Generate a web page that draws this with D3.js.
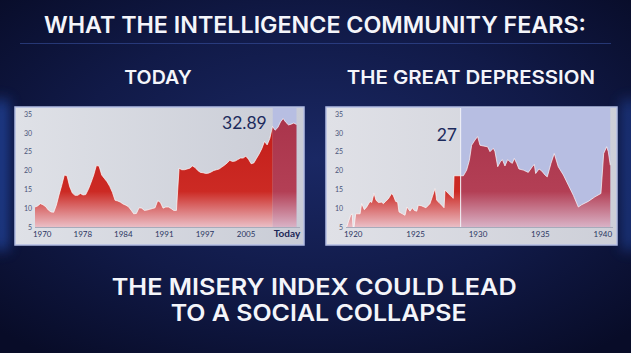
<!DOCTYPE html>
<html>
<head>
<meta charset="utf-8">
<script src="https://cdn.jsdelivr.net/npm/d3@7"></script>
<style>
  html, body { margin: 0; padding: 0; background: #0b1133; }
  svg { display: block; }
</style>
</head>
<body>
<div id="chart"></div>
<script>
// misery index, sampled evenly along the "today" panel
var todayValues = [
  10.3, 10.6, 11.2, 10.9, 10.4, 9.5, 9.0, 8.9, 10.8, 13.5,
  16.0, 18.8, 18.6, 15.7, 14.0, 13.4, 13.4, 13.9, 13.5, 13.6,
  15.0, 16.8, 18.8, 21.3, 21.2, 18.8, 17.9, 17.0, 15.8, 14.2,
  12.1, 11.9, 11.6, 11.1, 10.8, 10.4, 9.5, 8.5, 8.6, 10.1,
  10.0, 9.4, 9.5, 9.7, 9.9, 10.1, 12.0, 11.5, 10.0, 10.3,
  10.3, 9.9, 9.4, 9.4, 20.6, 20.2, 20.2, 20.4, 20.6, 21.2,
  20.8, 20.0, 19.5, 19.4, 19.2, 19.3, 19.6, 20.0, 20.2, 20.4,
  20.9, 21.4, 22.0, 22.7, 22.4, 22.5, 22.9, 23.3, 23.3, 23.8,
  23.0, 21.8, 22.0, 23.2, 24.4, 25.8, 27.7, 26.8, 28.5, 31.7,
  30.7, 31.4, 32.9, 33.8, 32.8, 32.1, 32.3, 32.6, 32.2
];
var todayTicks = [2.5, 17.75, 32.9, 48.25, 63.5, 78.9, 94.25];
var todayTickLabels = ["1970", "1978", "1984", "1991", "1997", "2005", "Today"];
var todayHighlightStart = 89.1;
var todayCallout = "32.89";

var depressionYears = [
  1919.52, 1919.65, 1919.84, 1919.95, 1920.03, 1920.11, 1920.24, 1920.59, 1920.72, 1920.93,
  1921.12, 1921.39, 1921.52, 1921.71, 1921.87, 1922.06, 1922.32, 1922.46, 1922.64, 1922.86,
  1923.12, 1923.26, 1923.44, 1923.60, 1923.71, 1923.98, 1924.19, 1924.35, 1924.59, 1924.78,
  1924.94, 1925.13, 1925.26, 1925.53, 1925.87, 1926.19, 1926.38, 1926.60, 1926.73, 1926.92,
  1927.13, 1927.32, 1927.40, 1927.66, 1927.93, 1928.06, 1928.12, 1928.87, 1929.13, 1929.35,
  1929.53, 1929.80, 1930.01, 1930.20, 1930.47, 1930.81, 1931.00, 1931.27, 1931.40, 1931.62,
  1931.83, 1931.99, 1932.20, 1932.42, 1932.60, 1932.79, 1932.95, 1933.14, 1933.32, 1933.67,
  1934.07, 1934.39, 1934.55, 1934.66, 1934.93, 1935.14, 1935.41, 1935.59, 1935.89, 1936.15,
  1936.47, 1936.88, 1937.28, 1937.68, 1938.08, 1938.34, 1938.88, 1939.41, 1939.89, 1940.11,
  1940.35, 1940.48, 1940.64
];
var depressionValues = [
  5.0, 6.3, 8.1, 8.5, 5.0, 5.0, 8.5, 8.5, 11.2, 9.6,
  10.3, 11.8, 11.5, 13.9, 12.1, 11.5, 11.6, 11.2, 11.8, 12.5,
  13.9, 13.3, 11.8, 11.6, 9.0, 8.5, 8.1, 10.3, 9.2, 10.1,
  9.4, 9.2, 10.8, 10.6, 10.1, 11.2, 13.0, 15.2, 12.1, 11.5,
  10.8, 10.1, 14.8, 13.9, 13.0, 12.6, 18.6, 18.6, 20.1, 22.7,
  26.7, 28.1, 29.0, 26.7, 26.5, 26.3, 25.0, 25.9, 25.0, 21.0,
  22.3, 22.9, 21.2, 22.9, 22.3, 21.9, 23.2, 21.9, 20.4, 20.1,
  19.5, 21.0, 21.6, 19.2, 20.4, 19.9, 18.8, 18.3, 21.9, 24.5,
  21.0, 18.8, 16.1, 13.4, 10.3, 10.9, 11.8, 13.0, 13.9, 24.5,
  26.3, 25.0, 21.4
];
var depressionTicks = [1920, 1925, 1930, 1935, 1940];
var depressionHighlightStart = 1928.65;
var depressionCallout = "27";

var yTicks = [5, 10, 15, 20, 25, 30, 35];

var W = 631, H = 353;
var svg = d3.select("#chart").append("svg").attr("width", W).attr("height", H);
var defs = svg.append("defs");

// backdrop
var bg = defs.append("radialGradient").attr("id", "bg")
  .attr("cx", "50%").attr("cy", "45%").attr("r", "70%");
bg.append("stop").attr("offset", "0%").attr("stop-color", "#1a2864");
bg.append("stop").attr("offset", "55%").attr("stop-color", "#111a48");
bg.append("stop").attr("offset", "100%").attr("stop-color", "#080c28");
svg.append("rect").attr("width", W).attr("height", H).attr("fill", "url(#bg)");

defs.append("filter").attr("id", "soft")
  .attr("x", "-200%").attr("y", "-50%").attr("width", "500%").attr("height", "200%")
  .append("feGaussianBlur").attr("stdDeviation", 7);
svg.append("rect").attr("x", -6).attr("y", 100).attr("width", 14).attr("height", 150)
  .attr("fill", "#2f62d8").attr("opacity", 0.6).attr("filter", "url(#soft)");
svg.append("rect").attr("x", 622).attr("y", 100).attr("width", 14).attr("height", 150)
  .attr("fill", "#2f62d8").attr("opacity", 0.45).attr("filter", "url(#soft)");

svg.append("line")
  .attr("x1", 20).attr("x2", 611).attr("y1", 43.5).attr("y2", 43.5)
  .attr("stroke", "#3c56a8").attr("stroke-opacity", 0.55).attr("stroke-width", 1);

// area fills
function vGrad(id, top, mid, bottom) {
  var g = defs.append("linearGradient").attr("id", id)
    .attr("gradientUnits", "userSpaceOnUse")
    .attr("x1", 0).attr("x2", 0).attr("y1", 114).attr("y2", 228);
  g.append("stop").attr("offset", "0%").attr("stop-color", top);
  g.append("stop").attr("offset", "68%").attr("stop-color", mid);
  g.append("stop").attr("offset", "100%").attr("stop-color", bottom);
}
vGrad("red", "#c21c18", "#cc2a24", "#ebc2ca");
vGrad("redHi", "#a9344b", "#b33f55", "#dab5c9");

function hGrad(id, left, right) {
  var g = defs.append("linearGradient").attr("id", id)
    .attr("x1", 0).attr("x2", 1).attr("y1", 0).attr("y2", 0);
  g.append("stop").attr("offset", "0%").attr("stop-color", left);
  g.append("stop").attr("offset", "100%").attr("stop-color", right);
}
hGrad("panelL", "#dfe1e7", "#c9ccd6");
hGrad("panelR", "#e0e1e7", "#cdcfd8");

var y = d3.scaleLinear().domain([5, 35]).range([227, 114]);

function drawPanel(opt) {
  var g = svg.append("g");
  var x = opt.x;

  g.append("rect")
    .attr("x", opt.box[0]).attr("y", 107)
    .attr("width", opt.box[1] - opt.box[0]).attr("height", 138)
    .attr("fill", opt.panelFill)
    .attr("stroke", "#b3bde3").attr("stroke-width", 1.5);

  var hiX = x(opt.hiStart);
  var endX = x(opt.hiEnd);
  g.append("rect")
    .attr("x", hiX).attr("y", 108)
    .attr("width", endX - hiX).attr("height", 119)
    .attr("fill", "#b7bee2");

  var area = d3.area()
    .x(function (d) { return x(d[0]); })
    .y0(y(5))
    .y1(function (d) { return y(d[1]); });
  var line = d3.line()
    .x(function (d) { return x(d[0]); })
    .y(function (d) { return y(d[1]); });

  defs.append("clipPath").attr("id", opt.id + "-lo")
    .append("rect").attr("x", 0).attr("y", 0).attr("width", hiX).attr("height", H);
  defs.append("clipPath").attr("id", opt.id + "-hi")
    .append("rect").attr("x", hiX).attr("y", 0).attr("width", W - hiX).attr("height", H);

  g.append("path").datum(opt.data)
    .attr("d", area).attr("fill", "url(#red)")
    .attr("clip-path", "url(#" + opt.id + "-lo)");
  g.append("path").datum(opt.data)
    .attr("d", area).attr("fill", "url(#redHi)")
    .attr("clip-path", "url(#" + opt.id + "-hi)");
  g.append("path").datum(opt.data)
    .attr("d", line).attr("fill", "none")
    .attr("stroke", "#ffffff").attr("stroke-opacity", 0.85)
    .attr("stroke-width", 0.8).attr("stroke-linejoin", "round");

  if (opt.divider) {
    g.append("line")
      .attr("x1", hiX).attr("x2", hiX).attr("y1", 108).attr("y2", 227)
      .attr("stroke", "#f2f3f8").attr("stroke-width", 1);
  }

  // baseline
  g.append("line")
    .attr("x1", opt.box[0] + 20).attr("x2", opt.box[1] - 4)
    .attr("y1", y(5) + 0.5).attr("y2", y(5) + 0.5)
    .attr("stroke", "#a6abbb").attr("stroke-width", 1);

  var yAxis = g.append("g")
    .attr("transform", "translate(" + opt.yLabelX + ",0)")
    .call(d3.axisLeft(y).tickValues(yTicks).tickSize(0).tickPadding(0));
  yAxis.select(".domain").remove();
  yAxis.selectAll("text")
    .attr("fill", "#4a5479").attr("font-family", "Lato, sans-serif")
    .attr("font-size", 7);

  var xAxis = g.append("g")
    .attr("transform", "translate(0," + y(5) + ")")
    .call(d3.axisBottom(x).tickValues(opt.ticks).tickSize(0).tickPadding(4)
      .tickFormat(function (d, i) { return opt.tickLabels[i]; }));
  xAxis.select(".domain").remove();
  xAxis.selectAll("text")
    .attr("fill", "#2a3562").attr("font-family", "Lato, sans-serif")
    .attr("font-size", 8)
    .filter(function (d, i) { return opt.tickLabels[i] === "Today"; })
    .attr("font-size", 10).attr("font-weight", 700).attr("fill", "#1c2656")
    .attr("dy", "0.6em");

  g.append("text")
    .attr("x", opt.calloutX).attr("y", opt.calloutY)
    .attr("text-anchor", opt.calloutAnchor)
    .attr("font-family", "Lato, sans-serif").attr("font-size", 17.5)
    .attr("fill", "#1c2a5c")
    .text(opt.callout);
}

var todayData = todayValues.map(function (v, i) { return [i, v]; });
var xToday = d3.scaleLinear().domain([0, todayValues.length - 1]).range([35, 296.5]);
drawPanel({
  id: "today",
  box: [15, 304],
  panelFill: "url(#panelL)",
  x: xToday,
  data: todayData,
  hiStart: todayHighlightStart,
  hiEnd: todayValues.length - 1,
  ticks: todayTicks,
  tickLabels: todayTickLabels,
  yLabelX: 32,
  callout: todayCallout,
  calloutX: 222, calloutY: 128.5, calloutAnchor: "start",
  divider: false
});

var depressionData = depressionYears.map(function (t, i) { return [t, depressionValues[i]]; });
var xDep = d3.scaleLinear().domain([1920, 1940]).range([352.7, 602.3]);
drawPanel({
  id: "dep",
  box: [326, 617],
  panelFill: "url(#panelR)",
  x: xDep,
  data: depressionData,
  hiStart: depressionHighlightStart,
  hiEnd: depressionYears[depressionYears.length - 1],
  ticks: depressionTicks,
  tickLabels: depressionTicks.map(String),
  yLabelX: 343,
  callout: depressionCallout,
  calloutX: 457, calloutY: 141, calloutAnchor: "end",
  divider: true
});

// headings
function heading(txt, x, baseline, size, width) {
  svg.append("text")
    .attr("x", x).attr("y", baseline)
    .attr("font-family", "Inter, 'Open Sans', sans-serif").attr("font-weight", 600)
    .attr("font-size", size).attr("fill", "#f4f5fa")
    .attr("textLength", width).attr("lengthAdjust", "spacingAndGlyphs")
    .text(txt);
}
heading("WHAT THE INTELLIGENCE COMMUNITY FEARS:", 44, 32.7, 23, 542);
heading("TODAY", 124.3, 84, 19, 67.4);
heading("THE GREAT DEPRESSION", 346.7, 84, 19, 248.3);
heading("THE MISERY INDEX COULD LEAD", 111.7, 295, 23, 405);
heading("TO A SOCIAL COLLAPSE", 170.7, 321, 23, 296);
</script>
</body>
</html>
